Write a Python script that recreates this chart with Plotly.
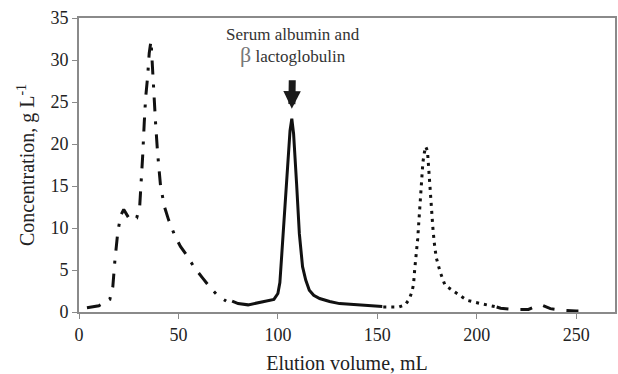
import plotly.graph_objects as go

# Dash-dot series (early eluting peak)
v_dashdot = [4, 10, 15.5, 17, 18, 19.5, 21, 22.5, 25.5, 29, 30.5, 31.2, 32, 32.8, 33.5, 34.5,
             35.3, 36.2, 36.8, 37.5, 38.5, 39.5, 41, 43, 45, 48, 51, 54, 58, 62, 66, 70, 74]
c_dashdot = [0.5, 0.75, 1.5, 3, 6, 9.5, 11.5, 12.2, 11.0, 11.2, 12.5, 15, 18.5, 22.5, 25.5, 28,
             30.8, 32.3, 29.5, 26.5, 22.5, 19, 15, 12.5, 11, 9.2, 7.8, 6.8, 5.3, 4.1, 2.9, 1.9, 1.3]

# Solid series (serum albumin and beta-lactoglobulin)
v_solid = [77, 80, 85, 90, 95, 98, 100, 101, 102, 103.2, 104.9, 106.1, 107, 107.9, 109.4, 110.8,
           112.4, 114, 115.8, 118, 121, 126, 131, 138, 144, 152.5]
c_solid = [1.3, 1.0, 0.85, 1.1, 1.4, 1.5, 2.2, 3.5, 7, 11.7, 18, 21.6, 23.0, 21.2, 15.3, 9.3,
           5.4, 3.8, 2.6, 2.0, 1.6, 1.25, 1.0, 0.9, 0.8, 0.65]

# Dotted series (late peak)
v_dot = [153, 157, 161, 164, 166, 167.4, 168.2, 168.8, 169.7, 170.3, 170.8, 171.3, 171.9, 172.4,
         172.9, 173.5, 174.3, 175.2, 175.7, 176.2, 176.7, 177.2, 177.9, 178.6, 179.6, 181.6,
         184, 188.8, 195, 202, 210]
c_dot = [0.6, 0.6, 0.6, 0.85, 1.5, 2.4, 3.3, 5.1, 6.9, 8.7, 10.5, 12.3, 14.2, 16.1,
         17.8, 18.8, 19.7, 19.2, 17.4, 15.5, 13.7, 11.9, 10.1, 8.3, 6.5, 4.75,
         3.2, 2.4, 1.4, 1.0, 0.6]

# Dashed tail
v_dash = [210, 212, 219, 226, 232, 237, 244, 250, 257]
c_dash = [0.6, 0.45, 0.3, 0.3, 0.9, 0.4, 0.2, 0.12, 0.12]

x_ticks = [0, 50, 100, 150, 200, 250]
y_ticks = [0, 5, 10, 15, 20, 25, 30, 35]

FONT = "Liberation Serif"
LINE = "#111111"
AXIS = "#8a8a8a"

fig = go.Figure()
fig.add_trace(go.Scatter(x=v_dashdot, y=c_dashdot, mode="lines",
                         line=dict(color=LINE, width=3, dash="14px,10px,3px,10px"),
                         showlegend=False))
fig.add_trace(go.Scatter(x=v_solid, y=c_solid, mode="lines",
                         line=dict(color=LINE, width=3), showlegend=False))
fig.add_trace(go.Scatter(x=v_dot, y=c_dot, mode="lines",
                         line=dict(color=LINE, width=3, dash="3px,5px"), showlegend=False))
fig.add_trace(go.Scatter(x=v_dash, y=c_dash, mode="lines",
                         line=dict(color=LINE, width=3, dash="12px,12px"), showlegend=False))

# label with arrow pointing to the peak
fig.add_annotation(x=107, y=24.2, xref="x", yref="y", ax=1, ay=-63,
                   text="Serum albumin and<br><span style='font-size:22px;color:#777'>β</span> lactoglobulin",
                   showarrow=True, arrowhead=2, arrowsize=0.5, arrowwidth=7,
                   arrowcolor="#1a1a1a", startstandoff=12, align="center",
                   font=dict(family=FONT, size=17, color="#333333"))

fig.update_layout(
    width=618, height=374,
    margin=dict(l=79, r=1, t=18, b=62),
    paper_bgcolor="white", plot_bgcolor="white",
    font=dict(family=FONT, color="#222222"),
)
fig.update_xaxes(range=[0, 269.5], tickvals=x_ticks, ticks="outside", ticklen=5,
                 tickcolor=AXIS, showline=True, linecolor=AXIS, linewidth=2, mirror=True,
                 showgrid=False, zeroline=False, tickfont=dict(size=18, family=FONT),
                 title=dict(text="Elution volume, mL", font=dict(size=20, family=FONT), standoff=12))
fig.update_yaxes(range=[0, 35], tickvals=y_ticks, ticks="outside", ticklen=5,
                 tickcolor=AXIS, showline=True, linecolor=AXIS, linewidth=2, mirror=True,
                 showgrid=False, zeroline=False, tickfont=dict(size=18, family=FONT),
                 title=dict(text="Concentration, g L<sup>-1</sup>", font=dict(size=20, family=FONT),
                            standoff=10))

fig.write_html("out.html")
